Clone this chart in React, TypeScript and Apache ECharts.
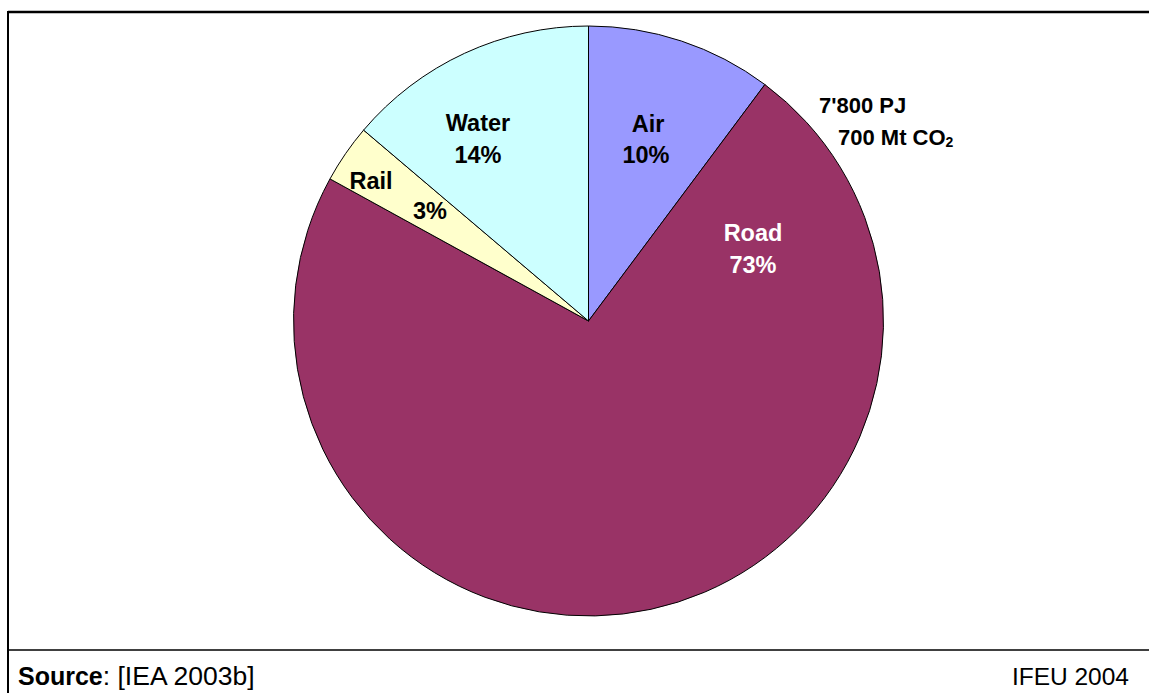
import React, { useEffect, useRef } from "react";
import * as echarts from "echarts";

const categories = ["Air", "Road", "Rail", "Water"];
const shares = [10.2, 72.8, 3.2, 13.8];
const colors = ["#9999FF", "#993366", "#FFFFCC", "#CCFFFF"];
const totalLines = ["7'800 PJ", "700 Mt CO"];
const sourceText = ["Source", ": [IEA 2003b]"];
const creditText = "IFEU 2004";

// label placement (name line, value line) in px
const labelPos: Record<string, { name: [number, number]; value: [number, number]; color: string }> = {
  Air: { name: [648, 124], value: [646, 155], color: "#000" },
  Road: { name: [753, 233], value: [753, 265], color: "#fff" },
  Rail: { name: [371, 181], value: [430, 211], color: "#000" },
  Water: { name: [478, 123], value: [478, 155], color: "#000" },
};

const FONT = "'Liberation Sans', Arial, sans-serif";

export default function App() {
  const ref = useRef<HTMLDivElement>(null);
  useEffect(() => {
    if (!ref.current) return;
    const chart = echarts.init(ref.current, null, { renderer: "svg" });
    const labelTexts: any[] = [];
    categories.forEach((c, i) => {
      const p = labelPos[c];
      labelTexts.push({
        type: "text",
        x: p.name[0],
        y: p.name[1],
        style: { text: c, font: `bold 23.5px ${FONT}`, fill: p.color, align: "center", verticalAlign: "middle" },
        z: 10,
      });
      labelTexts.push({
        type: "text",
        x: p.value[0],
        y: p.value[1],
        style: { text: `${Math.round(shares[i])}%`, font: `bold 23.5px ${FONT}`, fill: p.color, align: "center", verticalAlign: "middle" },
        z: 10,
      });
    });
    chart.setOption({
      animation: false,
      backgroundColor: "#fff",
      series: [
        {
          type: "pie",
          center: [588.5, 321],
          radius: 295,
          startAngle: 90,
          clockwise: true,
          label: { show: false },
          labelLine: { show: false },
          emphasis: { disabled: true },
          itemStyle: { borderColor: "#000", borderWidth: 1 },
          data: categories.map((c, i) => ({ name: c, value: shares[i], itemStyle: { color: colors[i] } })),
        },
      ],
      graphic: [
        { type: "line", shape: { x1: 8, y1: 12, x2: 1149, y2: 12 }, style: { stroke: "#000", lineWidth: 2.5 } },
        { type: "line", shape: { x1: 8, y1: 11, x2: 8, y2: 693 }, style: { stroke: "#000", lineWidth: 2 } },
        { type: "line", shape: { x1: 8, y1: 650, x2: 1149, y2: 650 }, style: { stroke: "#000", lineWidth: 1.5 } },
        ...labelTexts,
        {
          type: "text",
          x: 819,
          y: 105,
          style: { text: totalLines[0], font: `bold 22px ${FONT}`, fill: "#000", verticalAlign: "middle" },
        },
        {
          type: "text",
          x: 838,
          y: 137,
          style: {
            text: `${totalLines[1]}{sub|2}`,
            font: `bold 22px ${FONT}`,
            fill: "#000",
            verticalAlign: "middle",
            rich: { sub: { font: `bold 14px ${FONT}`, padding: [10, 0, 0, 0] } },
          },
        },
        {
          type: "text",
          x: 18,
          y: 676,
          style: {
            text: `{b|${sourceText[0]}}{r|${sourceText[1]}}`,
            verticalAlign: "middle",
            rich: {
              b: { font: `bold 25px ${FONT}`, fill: "#000" },
              r: { font: `26.5px ${FONT}`, fill: "#000" },
            },
          },
        },
        {
          type: "text",
          x: 1129,
          y: 676,
          style: { text: creditText, font: `24.5px ${FONT}`, fill: "#000", align: "right", verticalAlign: "middle" },
        },
      ],
    });
    return () => chart.dispose();
  }, []);
  return <div ref={ref} style={{ position: "fixed", left: 0, top: 0, width: 1149, height: 693 }} />;
}
